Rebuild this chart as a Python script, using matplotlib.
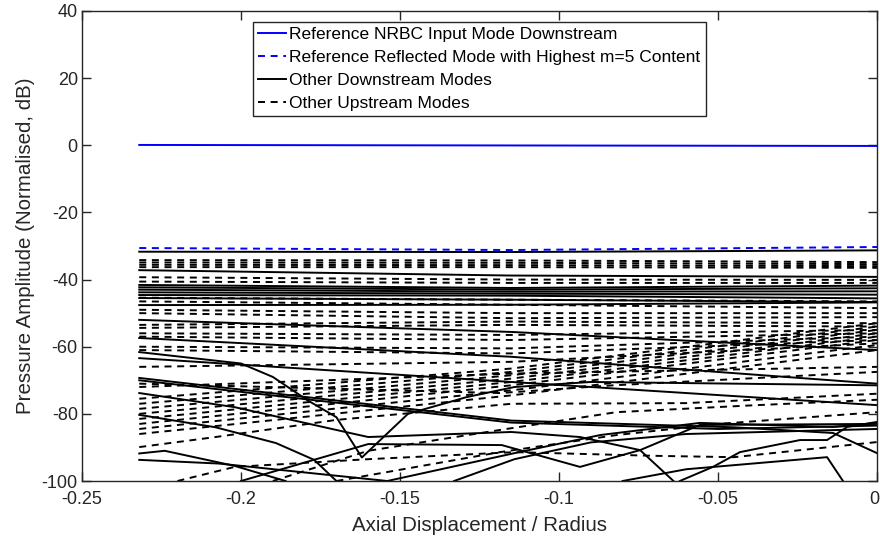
import matplotlib
matplotlib.use("Agg")
import matplotlib.pyplot as plt
import matplotlib.transforms as mtransforms
from matplotlib.lines import Line2D

plt.rcParams["font.family"] = ["Liberation Sans", "DejaVu Sans"]
plt.rcParams["axes.unicode_minus"] = False

X0, XM, X1 = -0.232, -0.115, 0.0

# reference modes
ref_input_x = [X0, X1]
ref_input_y = [0.1, -0.2]
ref_reflect_x = [X0, XM, X1]
ref_reflect_y = [-30.6, -31.2, -30.3]

# downstream modes sampled at inlet / mid / outlet
down_left = [-31.7, -37.2, -41.6, -42.3, -43.0, -43.8, -44.6, -45.5, -47.6, -52.0, -57.4, -63.4]
down_mid = [-31.8, -38.8, -42.5, -43.0, -43.6, -44.2, -44.8, -46.0, -47.5, -55.6, -63.0, -70.5]
down_right = [-31.3, -39.2, -41.8, -42.6, -43.5, -44.5, -45.6, -46.7, -46.8, -61.0, -71.0, -77.4]

# downstream modes with more structure (x, y knots)
down_curves = [
    ([X0, -0.200, -0.190, -0.179, -0.170, -0.162, -0.1475, -0.129, -0.114, -0.090, X1],
     [-61.6, -65.0, -69.0, -76.0, -81.0, -93.0, -80.0, -75.0, -72.0, -70.5, -71.5]),
    ([X0, -0.115, -0.045, -0.0138, X1],
     [-69.3, -82.0, -84.0, -85.7, -91.7]),
    ([X0, -0.115, -0.050, X1],
     [-70.0, -82.6, -84.5, -83.5]),
    ([X0, -0.202, -0.170, -0.160, -0.115, -0.0934, -0.0745, -0.064],
     [-73.8, -78.0, -84.8, -86.9, -85.4, -86.9, -90.8, -100.0]),
    ([X0, -0.208, -0.189, -0.177, -0.170],
     [-80.3, -84.0, -88.7, -93.7, -100.0]),
    ([X0, -0.224, -0.202, -0.186],
     [-91.8, -91.0, -95.5, -100.0]),
    ([X0, -0.207, -0.154],
     [-93.7, -94.8, -100.0]),
    ([-0.154, -0.114, -0.087, -0.0557, -0.0138, X1],
     [-100.0, -91.7, -86.3, -82.7, -83.9, -82.7]),
    ([-0.200, -0.160, -0.118, -0.0934, -0.0745, -0.0557, X1],
     [-100.0, -89.0, -89.3, -95.8, -90.8, -83.3, -83.0]),
    ([-0.133, -0.114, -0.090, -0.060, X1],
     [-100.0, -93.5, -88.5, -86.0, -84.5]),
    ([-0.080, -0.060, -0.0157, -0.0107],
     [-100.0, -96.5, -92.9, -100.0]),
    ([-0.062, -0.0516, -0.0431, -0.0242, -0.0157, -0.0094, X1],
     [-100.0, -95.8, -91.4, -87.8, -87.8, -83.9, -82.4]),
]

# upstream modes sampled at inlet / mid / outlet
up_left = [-34.2, -34.9, -35.6, -36.3, -39.3, -40.6, -45.4, -46.5, -49.0, -50.0,
           -53.5, -54.4, -56.0, -57.0, -60.0, -61.0, -66.0, -72.0,
           -75.5, -77.0, -78.5, -80.0, -81.5, -83.0, -84.5, -86.0]
up_mid = [-34.3, -35.0, -35.7, -36.3, -40.0, -41.0, -46.0, -47.5, -50.0, -51.5,
          -52.5, -53.5, -56.5, -58.0, -60.5, -62.0, -64.5, -68.0,
          -66.5, -67.5, -68.5, -69.5, -70.5, -71.5, -73.0, -74.5]
up_right = [-34.8, -35.4, -36.0, -36.5, -40.1, -41.0, -46.5, -48.5, -50.0, -51.2,
            -53.0, -54.0, -55.0, -56.0, -57.0, -58.0, -59.0, -66.0,
            -53.0, -54.0, -55.0, -56.0, -57.0, -58.0, -59.5, -61.0]

up_curves = [
    ([X0, -0.208, -0.170, -0.115, -0.060, X1],
     [-89.9, -86.9, -81.8, -77.0, -76.8, -74.0]),
    ([X0, -0.1186, -0.083, X1],
     [-71.0, -73.8, -71.5, -67.5]),
    ([-0.220, -0.202, -0.160, -0.114, -0.070, -0.045, X1],
     [-100.0, -95.8, -93.5, -91.4, -92.5, -92.9, -88.4]),
    ([-0.190, -0.160, -0.1186, -0.082, -0.040, X1],
     [-100.0, -91.0, -84.8, -79.5, -77.5, -75.8]),
    ([-0.170, -0.1186, -0.0818, -0.050, X1],
     [-100.0, -91.4, -86.3, -83.0, -79.5]),
]

fig = plt.figure(figsize=(8.8, 5.44), dpi=100)
ax = fig.add_axes([0.0932, 0.1158, 0.9034, 0.864])

lw = 1.4
dash = (3.6, 2.9)

for yl, ym, yr in zip(down_left, down_mid, down_right):
    ax.plot([X0, XM, X1], [yl, ym, yr], color="k", lw=lw)
for xs, ys in down_curves:
    ax.plot(xs, ys, color="k", lw=lw)
for yl, ym, yr in zip(up_left, up_mid, up_right):
    ax.plot([X0, XM, X1], [yl, ym, yr], color="k", lw=lw, ls=(0, dash))
for xs, ys in up_curves:
    ax.plot(xs, ys, color="k", lw=lw, ls=(0, dash))

ax.plot(ref_reflect_x, ref_reflect_y, color="#0000ff", lw=lw, ls=(0, dash), zorder=3)
ax.plot(ref_input_x, ref_input_y, color="#0000ff", lw=lw, zorder=3)

ax.set_xlim(-0.25, 0)
ax.set_ylim(-100, 40)
ax.set_xticks([-0.25, -0.2, -0.15, -0.1, -0.05, 0])
ax.set_xticklabels(["-0.25", "-0.2", "-0.15", "-0.1", "-0.05", "0"])
ax.set_yticks(range(-100, 41, 20))

grey = "#262626"
for sp in ax.spines.values():
    sp.set_color(grey)
    sp.set_linewidth(1.0)
ax.tick_params(direction="in", length=6.5, width=1.0, colors=grey,
               top=True, right=True, labelsize=13)
ax.tick_params(axis="x", pad=7)
ax.tick_params(axis="y", pad=3)
ax.set_xlabel("Axial Displacement / Radius", fontsize=14.8, color=grey, labelpad=6)
ax.set_ylabel("Pressure Amplitude (Normalised, dB)", fontsize=14.8, color=grey, labelpad=5)

# keep the last x tick label inside the canvas
last = ax.get_xticklabels()[-1]
last.set_transform(last.get_transform()
                   + mtransforms.ScaledTranslation(-3 / 100, 0, fig.dpi_scale_trans))

handles = [
    Line2D([], [], color="#0000ff", lw=lw),
    Line2D([], [], color="#0000ff", lw=lw, ls=(0, dash)),
    Line2D([], [], color="k", lw=lw),
    Line2D([], [], color="k", lw=lw, ls=(0, dash)),
]
labels = [
    "Reference NRBC Input Mode Downstream",
    "Reference Reflected Mode with Highest m=5 Content",
    "Other Downstream Modes",
    "Other Upstream Modes",
]
leg = ax.legend(handles, labels, loc="upper left", bbox_to_anchor=(0.215, 0.977),
                fontsize=12.5, handlelength=1.6, handletextpad=0.2, labelspacing=0.45,
                borderpad=0.3, borderaxespad=0, fancybox=False, framealpha=1)
leg.get_frame().set_edgecolor(grey)
leg.get_frame().set_linewidth(1.0)

fig.savefig("out.png", dpi=100)
